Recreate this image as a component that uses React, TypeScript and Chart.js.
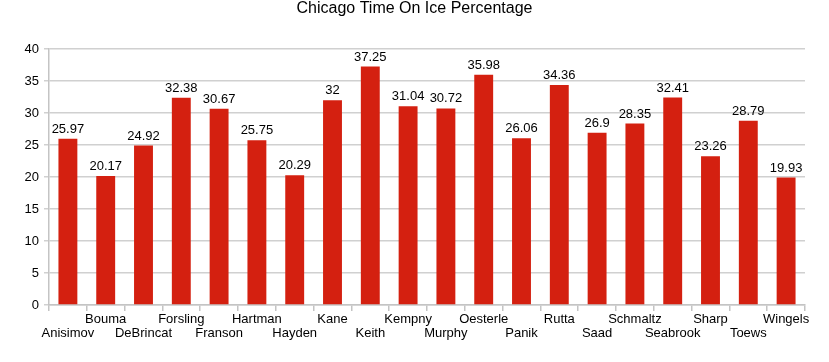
import React, { useEffect, useRef } from "react";
import { Chart, registerables } from "chart.js";

Chart.register(...registerables);

const chartTitle = "Chicago Time On Ice Percentage";
const players = ["Anisimov", "Bouma", "DeBrincat", "Forsling", "Franson", "Hartman", "Hayden", "Kane", "Keith", "Kempny", "Murphy", "Oesterle", "Panik", "Rutta", "Saad", "Schmaltz", "Seabrook", "Sharp", "Toews", "Wingels"];
const toiPct = [25.97, 20.17, 24.92, 32.38, 30.67, 25.75, 20.29, 32, 37.25, 31.04, 30.72, 35.98, 26.06, 34.36, 26.9, 28.35, 32.41, 23.26, 28.79, 19.93];
const toiLabels = ["25.97", "20.17", "24.92", "32.38", "30.67", "25.75", "20.29", "32", "37.25", "31.04", "30.72", "35.98", "26.06", "34.36", "26.9", "28.35", "32.41", "23.26", "28.79", "19.93"];
const yTicks = [0, 5, 10, 15, 20, 25, 30, 35, 40];

const FONT = "'Liberation Sans', Arial, Helvetica, sans-serif";

const valueLabels = {
  id: "valueLabels",
  afterDatasetsDraw(chart: any) {
    const ctx = chart.ctx;
    const meta = chart.getDatasetMeta(0);
    ctx.save();
    ctx.font = `13px ${FONT}`;
    ctx.fillStyle = "#000";
    ctx.textAlign = "center";
    ctx.textBaseline = "bottom";
    meta.data.forEach((el: any, i: number) => {
      ctx.fillText(toiLabels[i], el.x, el.y - 3);
    });
    ctx.restore();
  },
};

const pageTitle = {
  id: "pageTitle",
  afterDraw(chart: any) {
    const ctx = chart.ctx;
    ctx.save();
    ctx.font = `16px ${FONT}`;
    ctx.fillStyle = "#000";
    ctx.textAlign = "center";
    ctx.textBaseline = "middle";
    ctx.fillText(chartTitle, chart.width / 2, 9);
    ctx.restore();
  },
};

export default function App() {
  const ref = useRef<HTMLCanvasElement>(null);
  useEffect(() => {
    if (!ref.current) return;
    const chart = new Chart(ref.current, {
      type: "bar",
      data: {
        labels: players.map((p, i) => (i % 2 === 0 ? ["", p] : [p])),
        datasets: [
          {
            data: toiPct,
            backgroundColor: "#d42010",
            borderWidth: 0,
            barPercentage: 0.5,
            categoryPercentage: 1,
          },
        ],
      },
      options: {
        animation: false,
        responsive: false,
        maintainAspectRatio: false,
        layout: { padding: { left: 0, right: 24, top: 49, bottom: 0 } },
        plugins: {
          legend: { display: false },
          tooltip: { enabled: false },
          title: { display: false },
        },
        scales: {
          x: {
            offset: true,
            grid: {
              offset: true,
              drawOnChartArea: false,
              drawTicks: true,
              tickLength: 6,
              lineWidth: 1.5,
              color: "#c4c4c4",
            },
            border: { color: "#c4c4c4", width: 1.5 },
            ticks: {
              autoSkip: false,
              maxRotation: 0,
              minRotation: 0,
              color: "#000",
              padding: 1,
              font: { family: FONT, size: 13, lineHeight: 1.1 },
            },
            afterFit(scale: any) {
              scale.height = 57;
            },
          },
          y: {
            min: 0,
            max: 40,
            afterBuildTicks(scale: any) {
              scale.ticks = yTicks.map((v) => ({ value: v }));
            },
            grid: { color: "#d0d0d0", tickLength: 5, lineWidth: 1.5 },
            border: { color: "#c4c4c4", width: 1.5 },
            ticks: {
              color: "#000",
              padding: 5,
              font: { family: FONT, size: 13 },
            },
            afterFit(scale: any) {
              scale.width = 49;
            },
          },
        },
      },
      plugins: [valueLabels, pageTitle],
    });
    return () => chart.destroy();
  }, []);
  return (
    <div style={{ position: "fixed", left: 0, top: 0, width: 829, height: 362, background: "#fff" }}>
      <canvas ref={ref} width={829} height={362} style={{ width: 829, height: 362 }} />
    </div>
  );
}
